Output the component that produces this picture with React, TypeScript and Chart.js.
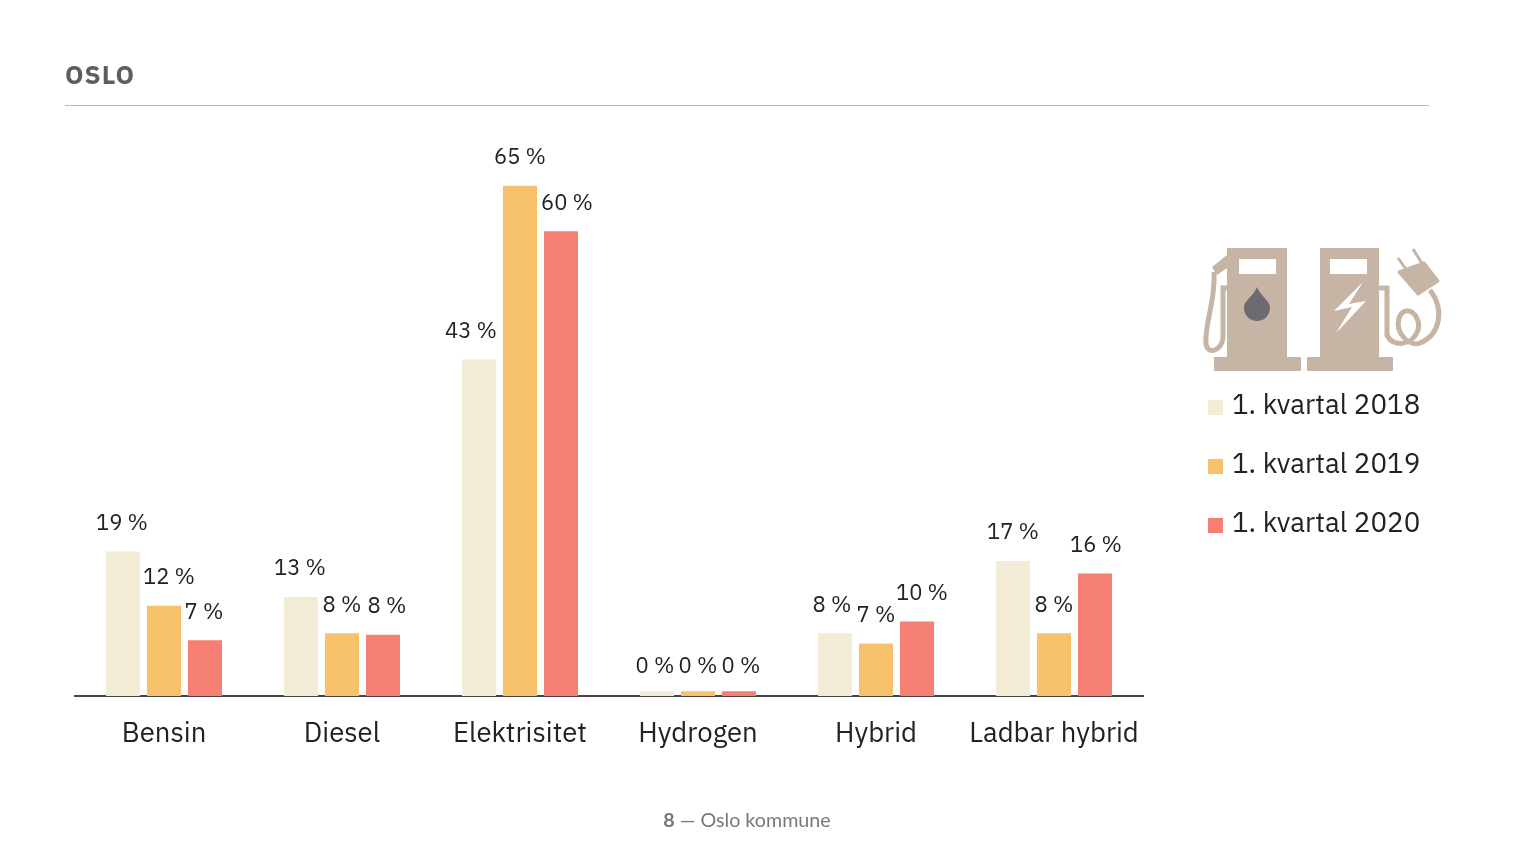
import React, { useEffect, useRef } from "react";
import { Chart, registerables } from "chart.js";

Chart.register(...registerables);

const categories = ["Bensin", "Diesel", "Elektrisitet", "Hydrogen", "Hybrid", "Ladbar hybrid"];
const seriesNames = ["1. kvartal 2018", "1. kvartal 2019", "1. kvartal 2020"];
const values2018 = [18.4, 12.6, 42.9, 0.6, 8.0, 17.2];
const values2019 = [11.5, 8.0, 65.0, 0.6, 6.7, 8.0];
const values2020 = [7.1, 7.8, 59.2, 0.6, 9.5, 15.6];
const labels2018 = ["19 %", "13 %", "43 %", "0 %", "8 %", "17 %"];
const labels2019 = ["12 %", "8 %", "65 %", "0 %", "7 %", "8 %"];
const labels2020 = ["7 %", "8 %", "60 %", "0 %", "10 %", "16 %"];
const colors = ["#f2ebd6", "#f8c16b", "#f47f72"];

const allValues = [values2018, values2019, values2020];
const allLabels = [labels2018, labels2019, labels2020];
// Sideways nudges and lift of the value labels, as placed in the source layout
const labelNudge = [
  [-1, -1, -8, -2, -3, 0],
  [5, 0, 0, 0, 0, 0],
  [-1, 4, 6, 2, 5, 1],
];
const labelLift = [28, 28, 28, 25, 28, 28];

const FONT = "'IBM Plex Sans', 'Noto Sans', sans-serif";

const valueLabels = {
  id: "valueLabels",
  afterDatasetsDraw(chart: any) {
    const ctx = chart.ctx;
    ctx.save();
    ctx.font = `22px ${FONT}`;
    ctx.fillStyle = "#222222";
    ctx.textAlign = "center";
    ctx.textBaseline = "middle";
    allLabels.forEach((labels, d) => {
      const meta = chart.getDatasetMeta(d);
      labels.forEach((text, i) => {
        const el = meta.data[i];
        ctx.fillText(text, el.x + labelNudge[d][i], el.y - labelLift[i]);
      });
    });
    ctx.restore();
  },
};

export default function App() {
  const ref = useRef<HTMLCanvasElement | null>(null);
  useEffect(() => {
    const chart = new Chart(ref.current as HTMLCanvasElement, {
      type: "bar",
      data: {
        labels: categories,
        datasets: seriesNames.map((name, d) => ({
          label: name,
          data: allValues[d],
          backgroundColor: colors[d],
          categoryPercentage: 0.691,
          barPercentage: 0.83,
        })),
      },
      options: {
        responsive: false,
        animation: false,
        layout: { padding: { left: 75, right: 393, top: 68, bottom: 100 } },
        plugins: { legend: { display: false }, tooltip: { enabled: false }, title: { display: false } },
        scales: {
          x: {
            grid: { display: false },
            border: { color: "#444444", width: 2 },
            ticks: { color: "#222222", font: { family: FONT, size: 27.5 }, padding: 14, maxRotation: 0, autoSkip: false },
          },
          y: { display: false, min: 0, max: 80 },
        },
      },
      plugins: [valueLabels],
    } as any);
    return () => chart.destroy();
  }, []);

  const hose = { fill: "none", stroke: "#c6b5a5", strokeWidth: 5 };
  return (
    <div style={{ position: "absolute", left: 0, top: 0, width: 1536, height: 865, background: "#fff", overflow: "hidden" }}>
      <canvas ref={ref} width={1536} height={865} style={{ position: "absolute", left: 0, top: 0 }} />
      <div style={{ position: "absolute", left: 65, top: 58, font: `bold 26px/32px ${FONT}`, color: "#5f5f5a", letterSpacing: 1 }}>OSLO</div>
      <div style={{ position: "absolute", left: 65, top: 105, width: 1364, height: 1, background: "#b9b9b9" }} />
      <div style={{ position: "absolute", left: 0, width: 1494, top: 808, textAlign: "center", font: "19.7px/24px Lato, sans-serif", color: "#77787a" }}>
        <b>8</b> — Oslo kommune
      </div>
      <svg width={1536} height={865} style={{ position: "absolute", left: 0, top: 0, pointerEvents: "none" }}>
        <g fill="#c6b5a5">
          <rect x={1227} y={248} width={60} height={110} />
          <rect x={1214} y={357} width={87} height={14} />
          <rect x={1320} y={248} width={59} height={110} />
          <rect x={1307} y={357} width={86} height={14} />
          <polygon points="1212,267 1227,255 1227,268 1217,275" />
          <polygon points="1399,272 1424,263 1438,281 1418,294" stroke="#c6b5a5" strokeWidth={3} strokeLinejoin="round" />
        </g>
        <rect x={1239} y={259} width={37} height={15} fill="#fff" />
        <rect x={1330} y={259} width={37} height={15} fill="#fff" />
        <path d="M1257 287 C1261 297 1270 300 1270 308 A13 13 0 0 1 1244 308 C1244 300 1253 297 1257 287 Z" fill="#6b6b70" />
        <polygon points="1363,282 1334,311 1352,307 1336,333 1366,301 1349,304" fill="#fff" />
        <path d="M1227 288 H1223 V338 C1222 350 1208 356 1206 344 C1204 325 1216 300 1214 272" {...hose} />
        <path d="M1379 288 H1387 V335 C1392 347 1412 347 1418 330 C1422 315 1405 302 1399 318 C1395 332 1408 347 1420 343 C1440 335 1445 310 1430 290" {...hose} />
        <path d="M1398 258 L1408 272 M1413 249 L1423 265" fill="none" stroke="#c6b5a5" strokeWidth={3} />
      </svg>
      {seriesNames.map((name, d) => (
        <React.Fragment key={name}>
          <div style={{ position: "absolute", left: 1208, top: 400 + d * 59, width: 15, height: 15, background: colors[d] }} />
          <div style={{ position: "absolute", left: 1232, top: 386 + d * 59, font: `27.7px/36px ${FONT}`, color: "#222222", whiteSpace: "nowrap" }}>{name}</div>
        </React.Fragment>
      ))}
    </div>
  );
}
